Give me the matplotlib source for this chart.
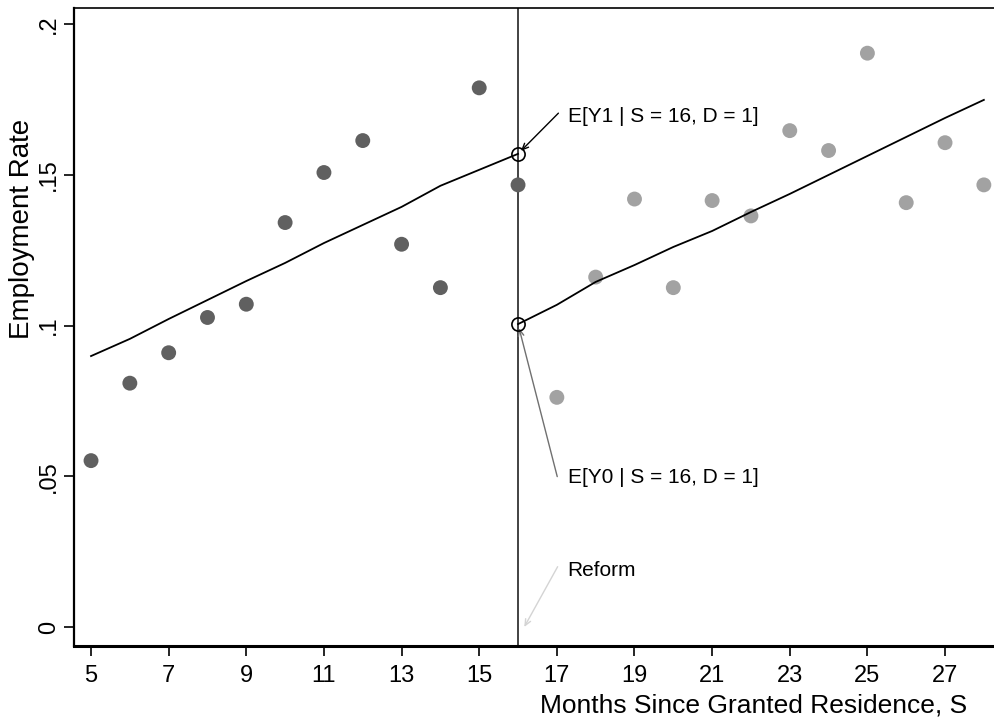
import matplotlib
matplotlib.use('Agg')
import matplotlib.pyplot as plt

plt.rcParams['font.family'] = ['Liberation Sans', 'DejaVu Sans']

# months since residence was granted
months = list(range(5, 29))
# employment rate per month
rate = [0.0552, 0.0809, 0.0910, 0.1027, 0.1071, 0.1342, 0.1508, 0.1614,
        0.1270, 0.1126, 0.1789, 0.1467,
        0.0762, 0.1161, 0.1420, 0.1126, 0.1415, 0.1364, 0.1647, 0.1581,
        0.1904, 0.1408, 0.1607, 0.1467]
cutoff = 16

# fitted lines on each side of the reform
fit_left_x = list(range(5, 17))
fit_left_y = [0.0899, 0.0956, 0.1022, 0.1085, 0.1148, 0.1208, 0.1274,
              0.1334, 0.1394, 0.1464, 0.1517, 0.1570]
fit_right_x = list(range(16, 29))
fit_right_y = [0.1005, 0.1069, 0.1145, 0.1201, 0.1261, 0.1314, 0.1377,
               0.1437, 0.1500, 0.1563, 0.1626, 0.1689, 0.1749]

yticks = [0, 0.05, 0.1, 0.15, 0.2]
ytick_labels = ['0', '.05', '.1', '.15', '.2']
xticks = list(range(5, 28, 2))

fig = plt.figure(figsize=(9.95, 7.25), dpi=100)
ax = fig.add_axes([0.0744, 0.109, 0.9256, 0.880])

dark_x = [m for m in months if m <= cutoff]
dark_y = [r for m, r in zip(months, rate) if m <= cutoff]
light_x = [m for m in months if m > cutoff]
light_y = [r for m, r in zip(months, rate) if m > cutoff]
ax.scatter(dark_x, dark_y, s=115, color='#606060', edgecolors='none', zorder=3)
ax.scatter(light_x, light_y, s=115, color='#a2a2a2', edgecolors='none', zorder=3)

ax.plot(fit_left_x, fit_left_y, color='black', lw=1.3, zorder=4)
ax.plot(fit_right_x, fit_right_y, color='black', lw=1.3, zorder=4)
ax.axvline(cutoff, color='#222222', lw=1.2, zorder=2)

ax.plot([cutoff, cutoff], [fit_left_y[-1], fit_right_y[0]], linestyle='none',
        marker='o', markersize=9.5, markerfacecolor='none',
        markeredgecolor='black', markeredgewidth=1.2, zorder=5)

arrow = dict(arrowstyle='->,head_length=0.45,head_width=0.2', lw=1.0,
             shrinkA=0, shrinkB=3)
ax.annotate('', xy=(cutoff, fit_left_y[-1]), xytext=(17.04, 0.1705),
            arrowprops=dict(arrow, color='black'))
ax.text(17.29, 0.1693, 'E[Y1 | S = 16, D = 1]', fontsize=15,
        ha='left', va='center')
ax.annotate('', xy=(cutoff, fit_right_y[0]), xytext=(17.01, 0.0499),
            arrowprops=dict(arrow, color='#707070'))
ax.text(17.29, 0.0495, 'E[Y0 | S = 16, D = 1]', fontsize=15,
        ha='left', va='center')
ax.annotate('', xy=(cutoff + 0.16, 0), xytext=(17.02, 0.0200),
            arrowprops=dict(arrow, color='#d4d4d4', shrinkB=0))
ax.text(17.28, 0.0187, 'Reform', fontsize=15, ha='left', va='center')

ax.set_xlim(4.562, 28.287)
ax.set_ylim(-0.0063, 0.2054)
ax.set_xticks(xticks)
ax.set_yticks(yticks)
ax.set_yticklabels(ytick_labels, rotation=90, va='center')
ax.tick_params(axis='both', direction='out', length=7, width=1.2,
               labelsize=17, pad=3)
ax.tick_params(axis='x', pad=7)

ax.spines['right'].set_visible(False)
ax.spines['left'].set_linewidth(1.6)
ax.spines['bottom'].set_linewidth(2.2)
ax.spines['top'].set_linewidth(1.2)

ax.set_ylabel('Employment Rate', fontsize=20)
ax.yaxis.set_label_coords(-0.042, 0.654)
ax.set_xlabel('Months Since Granted Residence, S', fontsize=19, ha='right')
ax.xaxis.set_label_coords(0.970, -0.074)

fig.savefig('out.png', dpi=100)
